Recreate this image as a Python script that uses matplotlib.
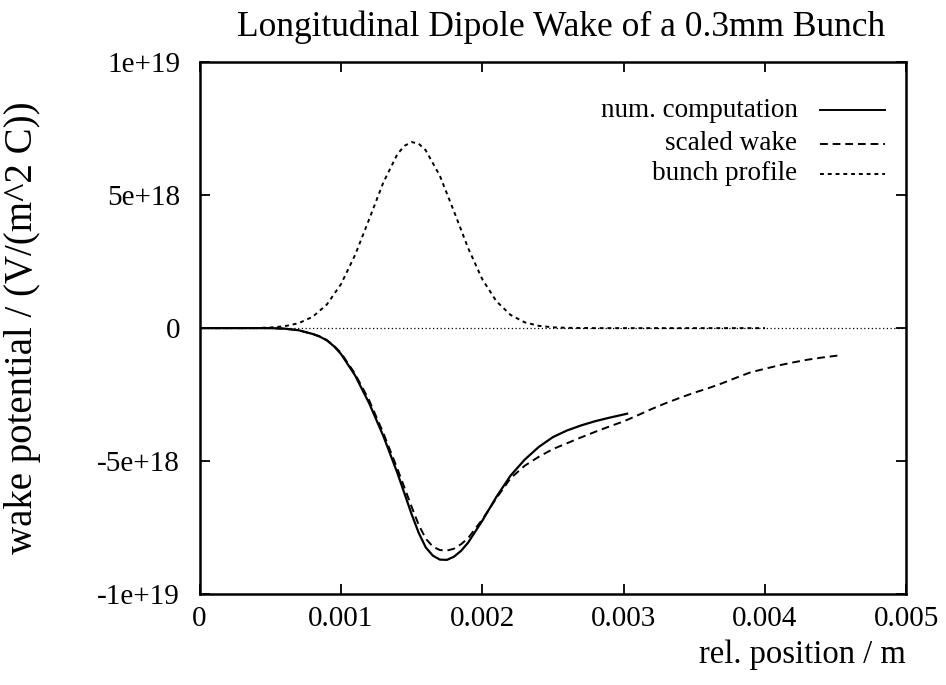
import numpy as np
import matplotlib
matplotlib.use("Agg")
import matplotlib.pyplot as plt

plt.rcParams['font.family'] = ['Liberation Serif', 'DejaVu Serif']

# num. computation (x in mm, y in 1e18 V/(m^2 C))
num_x = [0.0, 0.3, 0.5, 0.6, 0.7, 0.8, 0.85, 0.9, 0.95, 1.0, 1.1, 1.2, 1.3, 1.4, 1.5,
         1.55, 1.6, 1.65, 1.7, 1.75, 1.8, 1.85, 1.9, 2.0, 2.1, 2.2, 2.3, 2.4, 2.5,
         2.6, 2.7, 2.8, 2.9, 3.025]
num_y = [0.0, 0.0, 0.0, -0.02, -0.08, -0.22, -0.32, -0.46, -0.68, -0.97, -1.78, -2.83,
         -4.06, -5.46, -7.0, -7.7, -8.25, -8.56, -8.71, -8.72, -8.6, -8.38, -8.07,
         -7.25, -6.35, -5.55, -4.95, -4.47, -4.1, -3.85, -3.66, -3.5, -3.37, -3.22]

# scaled wake
sc_x = [0.0, 0.3, 0.5, 0.6, 0.7, 0.8, 0.85, 0.9, 0.95, 1.0, 1.1, 1.2, 1.3, 1.4, 1.5,
        1.55, 1.6, 1.65, 1.7, 1.75, 1.8, 1.85, 1.9, 2.0, 2.1, 2.2, 2.3, 2.4, 2.5,
        2.6, 2.7, 2.8, 2.9, 3.0, 3.1, 3.2, 3.3, 3.4, 3.5, 3.6, 3.7, 3.8, 3.9, 4.0,
        4.1, 4.2, 4.3, 4.4, 4.535]
sc_y = [0.0, 0.0, 0.0, -0.02, -0.08, -0.22, -0.31, -0.45, -0.66, -0.93, -1.72, -2.72,
        -3.95, -5.3, -6.72, -7.4, -7.92, -8.22, -8.35, -8.37, -8.3, -8.13, -7.9,
        -7.2, -6.4, -5.65, -5.18, -4.84, -4.55, -4.33, -4.11, -3.9, -3.7, -3.51,
        -3.28, -3.04, -2.82, -2.62, -2.43, -2.26, -2.07, -1.86, -1.66, -1.53, -1.40,
        -1.29, -1.19, -1.11, -1.02]

# bunch profile
bp_x = [0.0, 0.4, 0.5, 0.6, 0.7, 0.8, 0.9, 1.0, 1.1, 1.2, 1.3, 1.4, 1.45, 1.5, 1.55,
        1.6, 1.7, 1.8, 1.9, 2.0, 2.1, 2.2, 2.3, 2.4, 2.5, 2.6, 2.8, 4.0]
bp_y = [0.0, 0.004, 0.024, 0.070, 0.183, 0.426, 0.886, 1.65, 2.75, 4.10, 5.48, 6.55, 6.86,
        7.0, 6.94, 6.69, 5.73, 4.39, 3.01, 1.84, 1.01, 0.497, 0.218, 0.086, 0.030, 0.01,
        0.0, 0.0]

xticks = [0, 0.001, 0.002, 0.003, 0.004, 0.005]
xtick_labels = ["0", "0.001", "0.002", "0.003", "0.004", "0.005"]
yticks = [-1e19, -5e18, 0, 5e18, 1e19]
ytick_labels = ["-1e+19", "-5e+18", "0", "5e+18", "1e+19"]

fig = plt.figure(figsize=(9.46, 6.85), dpi=100)
ax = fig.add_axes([0.211, 0.133, 0.747, 0.776])

ax.axhline(0, color='black', lw=0.9, linestyle=(0, (1, 2)))
ax.plot(np.array(num_x) * 1e-3, np.array(num_y) * 1e18, color='black', lw=1.6)
ax.plot(np.array(sc_x) * 1e-3, np.array(sc_y) * 1e18, color='black', lw=1.4,
        linestyle=(0, (4, 2.5)))
ax.plot(np.array(bp_x) * 1e-3, np.array(bp_y) * 1e18, color='black', lw=1.4,
        linestyle=(0, (2, 2)))

ax.set_xlim(0, 0.005)
ax.set_ylim(-1e19, 1e19)
ax.set_xticks(xticks)
ax.set_xticklabels(xtick_labels)
ax.set_yticks(yticks)
ax.set_yticklabels(ytick_labels)
ax.tick_params(direction='in', top=True, right=True, length=7, width=1.3,
               labelsize=21)
ax.tick_params(axis='x', pad=9)
ax.tick_params(axis='y', pad=14)
for s in ax.spines.values():
    s.set_linewidth(1.8)

ax.set_title("Longitudinal Dipole Wake of a 0.3mm Bunch", fontsize=25.5, pad=19,
             x=0.512)
ax.set_ylabel("wake potential / (V/(m^2 C))", fontsize=28)
ax.yaxis.set_label_coords(-0.225, 0.5)
ax.set_xlabel("rel. position / m", fontsize=23.5, loc='right', labelpad=5)

# gnuplot-style key
labels = ["num. computation", "scaled wake", "bunch profile"]
styles = ['-', (0, (4, 2.5)), (0, (2, 2))]
ys = [0.91, 0.847, 0.79]
for lab, st, yy in zip(labels, styles, ys):
    ax.text(0.846, yy, lab, transform=ax.transAxes, ha='right', va='center', fontsize=19.5)
    ax.plot([0.878, 0.97], [yy, yy], transform=ax.transAxes, color='black',
            lw=1.4, linestyle=st)

fig.savefig("out.png", dpi=100)
